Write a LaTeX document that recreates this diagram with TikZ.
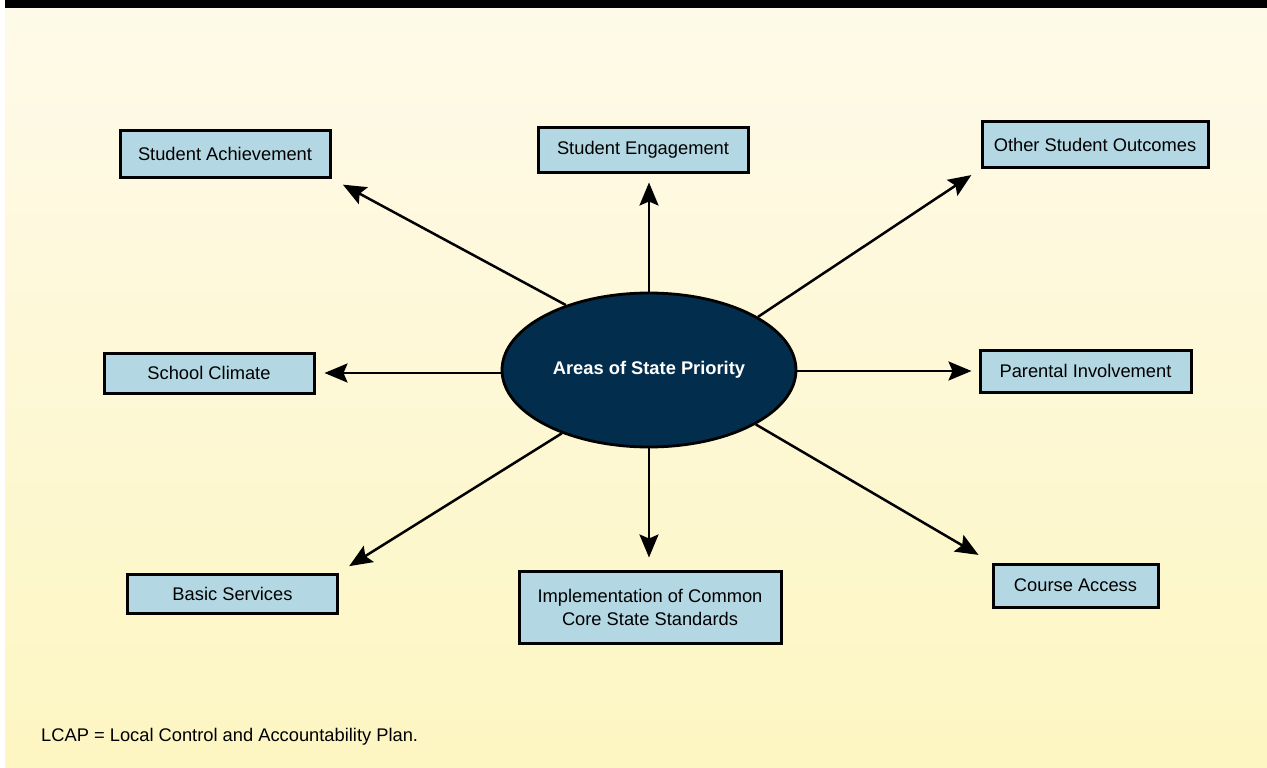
\documentclass[tikz,border=0pt]{standalone}
\usepackage{fontspec}
\setmainfont{Liberation Sans}
\usetikzlibrary{arrows.meta,shapes.geometric}
\definecolor{bgtop}{HTML}{FEFAE9}
\definecolor{bgbot}{HTML}{FDF6C2}
\definecolor{boxblue}{HTML}{B3D8E4}
\definecolor{navy}{HTML}{032D4C}
\begin{document}
\begin{tikzpicture}[x=1pt,y=-1pt]
    \tikzstyle{every node}=[font=\fontsize{18.3}{23}\selectfont];
    \tikzstyle{areabox}=[draw,line width=3pt,fill=boxblue,inner sep=0pt,
                         align=center,minimum width=210pt,minimum height=44pt];
    \tikzstyle{hub}=[draw,ellipse,line width=2.8pt,fill=navy,text=white,
                     font=\fontsize{18.3}{23}\selectfont\bfseries,inner sep=0pt,
                     minimum width=294pt,minimum height=154pt];
    \tikzstyle{arr}=[line width=2.5pt,-{Stealth[length=23pt,width=19pt,inset=4pt]}];
    \useasboundingbox (0,0) rectangle (1267,768);
    \fill[white] (0,0) rectangle (1267,768);
    \shade[top color=bgtop,bottom color=bgbot] (5,8) rectangle (1267,768);
    \fill[black] (5,0) rectangle (1267,8);
    \node[hub] (pri) at (649,370) {Areas of State Priority};
    \node[areabox,minimum height=47pt] (ach) at (225,153.5) {Student Achievement};
    \node[areabox,minimum height=45pt] (eng) at (643,149.5) {Student Engagement};
    \node[areabox,minimum width=226pt,minimum height=46pt] (out) at (1095,144.5) {Other Student Outcomes};
    \node[areabox,minimum height=40pt] (clim) at (209,373) {School Climate};
    \node[areabox,minimum width=211pt,minimum height=42pt] (par) at (1085.5,371) {Parental Involvement};
    \node[areabox,minimum height=39pt] (bas) at (232.5,593.5) {Basic Services};
    \node[areabox,minimum width=262pt,minimum height=72pt] (imp) at (650,607)
         {Implementation of Common\\Core State Standards};
    \node[areabox,minimum width=165pt,minimum height=43pt] (crs) at (1075.5,585.5) {Course Access};
    \node[anchor=base west,inner sep=0pt] (note) at (41,741)
         {LCAP = Local Control and Accountability Plan.};
    \draw[arr,shorten >=13pt] (pri.142.5) -- (ach.south east);
    \draw[arr,shorten >=9pt] (pri.north) -- (pri.north |- eng.south);
    \draw[arr,shorten >=11pt] (pri.26) -- (out.south west);
    \draw[arr,shorten >=9pt] (pri.west |- clim) -- (clim.east);
    \draw[arr,shorten >=7pt] (pri.east |- par) -- (par.west);
    \draw[arr,shorten >=12pt] (pri.216) -- (bas.north east);
    \draw[arr,shorten >=12pt] (pri.south) -- (pri.south |- imp.north);
    \draw[arr,shorten >=15pt] (pri.333) -- (crs.north west);
\end{tikzpicture}
\end{document}
